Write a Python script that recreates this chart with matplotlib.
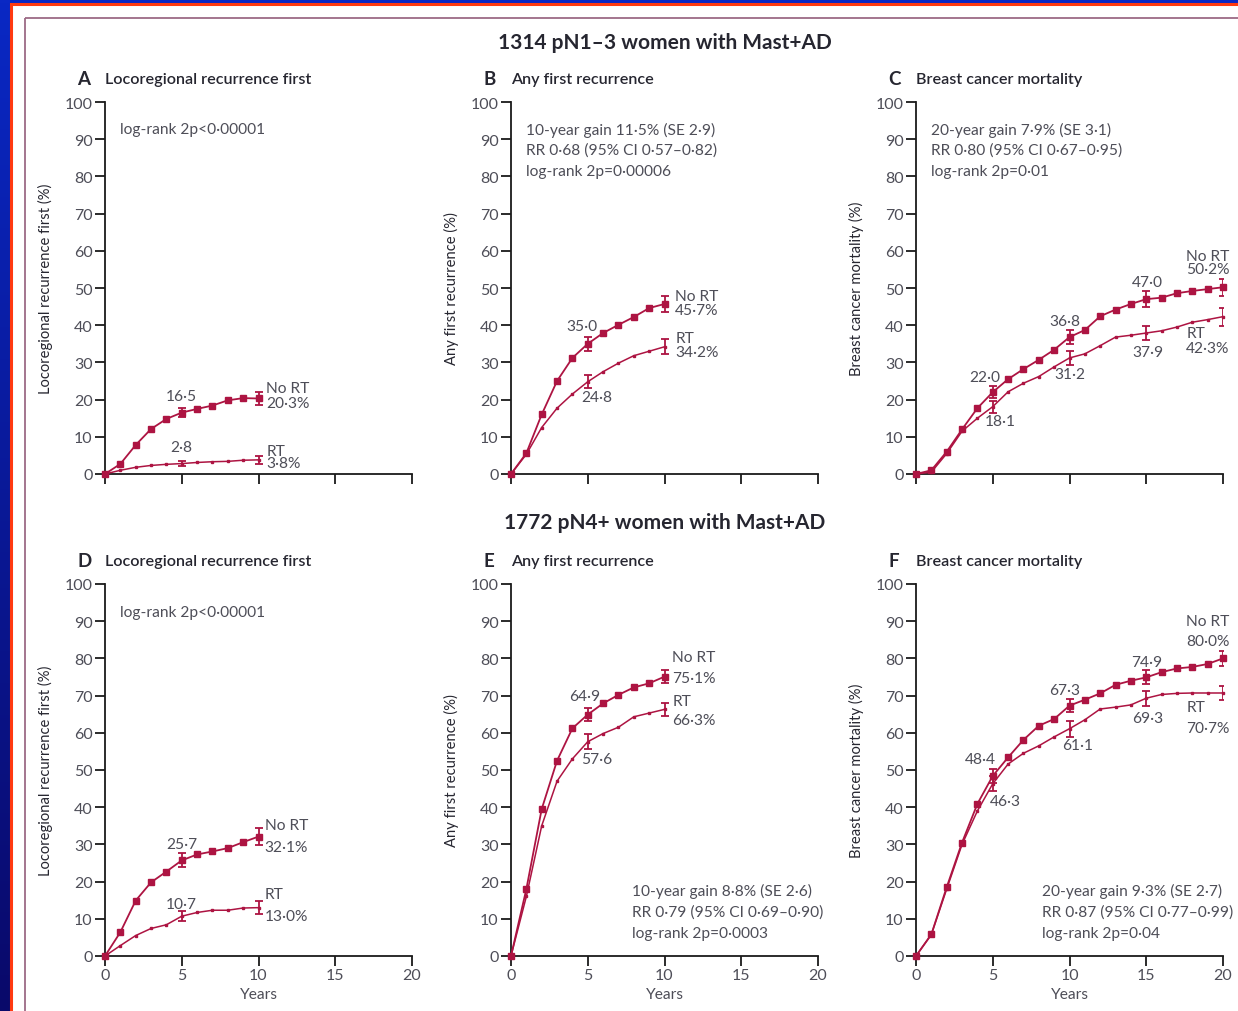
import numpy as np
import matplotlib
matplotlib.use('Agg')
import matplotlib.pyplot as plt
from matplotlib.patches import Rectangle

plt.rcParams['font.family'] = ['Lato', 'DejaVu Sans']

# ---- data ----
years10 = list(range(0, 11))
years20 = list(range(0, 21))

a_nort = [0, 2.7, 7.8, 12.1, 14.8, 16.5, 17.5, 18.4, 19.8, 20.4, 20.3]
a_rt = [0, 1.0, 1.8, 2.3, 2.6, 2.8, 3.1, 3.3, 3.4, 3.7, 3.8]
b_nort = [0, 5.6, 16.0, 25.0, 31.2, 35.0, 37.9, 40.1, 42.2, 44.6, 45.7]
b_rt = [0, 5.3, 12.5, 17.7, 21.5, 24.8, 27.5, 29.8, 31.8, 33.0, 34.2]
c_nort = [0, 1.0, 6.0, 12.0, 17.7, 22.0, 25.5, 28.2, 30.7, 33.4, 36.8,
          38.7, 42.4, 44.2, 45.7, 47.0, 47.4, 48.6, 49.2, 49.7, 50.2]
c_rt = [0, 0.5, 5.5, 11.5, 15.0, 18.1, 22.1, 24.4, 26.2, 28.8, 31.2,
        32.3, 34.5, 36.8, 37.3, 37.9, 38.5, 39.5, 40.8, 41.5, 42.3]
d_nort = [0, 6.4, 14.9, 19.8, 22.7, 25.7, 27.3, 28.1, 29.0, 30.6, 32.1]
d_rt = [0, 2.8, 5.5, 7.4, 8.4, 10.7, 11.7, 12.3, 12.3, 12.9, 13.0]
e_nort = [0, 18.0, 39.5, 52.5, 61.2, 64.9, 67.9, 70.2, 72.2, 73.3, 75.1]
e_rt = [0, 16.0, 35.0, 47.0, 53.0, 57.6, 59.8, 61.5, 64.3, 65.3, 66.3]
f_nort = [0, 5.8, 18.5, 30.5, 40.9, 48.4, 53.4, 58.1, 61.9, 63.7, 67.3,
          68.9, 70.6, 72.9, 74.0, 74.9, 76.3, 77.3, 77.7, 78.5, 80.0]
f_rt = [0, 5.8, 18.0, 30.0, 39.0, 46.3, 51.6, 54.5, 56.5, 58.9, 61.1,
        63.5, 66.4, 66.9, 67.5, 69.3, 70.3, 70.6, 70.7, 70.7, 70.7]

# standard errors shown as bars at 5-year points
a_err = ([1.3, 1.8], [0.7, 1.0])
b_err = ([1.9, 2.1], [1.8, 2.0])
c_err = ([1.7, 1.8, 2.1, 2.3], [1.6, 1.8, 2.0, 2.4])
d_err = ([1.9, 2.3], [1.4, 1.7])
e_err = ([1.8, 1.8], [2.0, 1.8])
f_err = ([1.8, 1.8, 1.9, 2.0], [2.0, 2.1, 2.0, 1.8])

titles = ['1314 pN1\u20133 women with Mast+AD', '1772 pN4+ women with Mast+AD']
panel_letters = ['A', 'B', 'C', 'D', 'E', 'F']
panel_names = ['Locoregional recurrence first', 'Any first recurrence',
               'Breast cancer mortality'] * 2
ylabels = ['Locoregional recurrence first (%)', 'Any first recurrence (%)',
           'Breast cancer mortality (%)'] * 2

stats = {
    'A': ['log-rank 2p<0\u00b700001'],
    'B': ['10-year gain 11\u00b75% (SE 2\u00b79)', 'RR 0\u00b768 (95% CI 0\u00b757\u20130\u00b782)',
          'log-rank 2p=0\u00b700006'],
    'C': ['20-year gain 7\u00b79% (SE 3\u00b71)', 'RR 0\u00b780 (95% CI 0\u00b767\u20130\u00b795)',
          'log-rank 2p=0\u00b701'],
    'D': ['log-rank 2p<0\u00b700001'],
    'E': ['10-year gain 8\u00b78% (SE 2\u00b76)', 'RR 0\u00b779 (95% CI 0\u00b769\u20130\u00b790)',
          'log-rank 2p=0\u00b70003'],
    'F': ['20-year gain 9\u00b73% (SE 2\u00b77)', 'RR 0\u00b787 (95% CI 0\u00b777\u20130\u00b799)',
          'log-rank 2p=0\u00b704'],
}
stats_pos = {'A': (1.0, 92.7), 'B': (1.0, 92.7), 'C': (1.0, 92.7),
             'D': (1.0, 92.5), 'E': (7.9, 17.5), 'F': (8.2, 17.5)}

# value labels: (x, y, text)
labels = {
    'A': [(5, 21.0, '16\u00b75'), (5, 7.3, '2\u00b78')],
    'B': [(4.6, 39.8, '35\u00b70'), (5.6, 20.7, '24\u00b78')],
    'C': [(4.5, 26.1, '22\u00b70'), (5.5, 14.2, '18\u00b71'), (9.7, 41.1, '36\u00b78'),
          (10.0, 26.9, '31\u00b72'), (15.1, 51.6, '47\u00b70'), (15.1, 32.8, '37\u00b79')],
    'D': [(5, 30.1, '25\u00b77'), (5, 14.0, '10\u00b77')],
    'E': [(4.8, 69.9, '64\u00b79'), (5.6, 53.0, '57\u00b76')],
    'F': [(4.2, 53.0, '48\u00b74'), (5.8, 41.7, '46\u00b73'), (9.7, 71.5, '67\u00b73'),
          (10.5, 56.7, '61\u00b71'), (15.0, 79.0, '74\u00b79'), (15.1, 64.0, '69\u00b73')],
}
# end labels: (x, y_name, y_value, name, value)
ends = {
    'A': [(10.5, 23.1, 19.1, 'No RT', '20\u00b73%'), (10.5, 6.2, 3.0, 'RT', '3\u00b78%')],
    'B': [(10.7, 47.8, 44.1, 'No RT', '45\u00b77%'), (10.7, 36.6, 32.8, 'RT', '34\u00b72%')],
    'C': [(17.6, 58.6, 55.1, 'No RT', '50\u00b72%'), (17.6, 37.9, 33.9, 'RT', '42\u00b73%')],
    'D': [(10.4, 35.2, 29.3, 'No RT', '32\u00b71%'), (10.4, 16.7, 10.8, 'RT', '13\u00b70%')],
    'E': [(10.5, 80.4, 74.7, 'No RT', '75\u00b71%'), (10.5, 68.5, 63.4, 'RT', '66\u00b73%')],
    'F': [(17.6, 90.0, 84.7, 'No RT', '80\u00b70%'), (17.6, 66.9, 61.3, 'RT', '70\u00b77%')],
}

series = {
    'A': (years10, a_nort, a_rt, a_err), 'B': (years10, b_nort, b_rt, b_err),
    'C': (years20, c_nort, c_rt, c_err), 'D': (years10, d_nort, d_rt, d_err),
    'E': (years10, e_nort, e_rt, e_err), 'F': (years20, f_nort, f_rt, f_err),
}

RED = '#ad1442'
GREY = '#4e4e58'
DARK = '#262630'
FS = 11.2

W, H = 1238, 1012
fig = plt.figure(figsize=(W / 100, H / 100), dpi=100)

# background frame
bg = fig.add_axes([0, 0, 1, 1], zorder=-10)
bg.set_xlim(0, W)
bg.set_ylim(H, 0)
bg.axis('off')
grad = np.linspace(0, 1, 256).reshape(-1, 1)
bg.imshow(grad, extent=[0, W, H, 0], aspect='auto',
          cmap=matplotlib.colors.LinearSegmentedColormap.from_list('b', ['#0a28c4', '#09096a']))
bg.add_patch(Rectangle((11, 5), W, H, facecolor='white', edgecolor='#ff3a10', lw=2.2))
bg.add_patch(Rectangle((25, 18.5), W, H, facecolor='none', edgecolor='#9c6a86', lw=1.3))

lefts = [105, 511, 916]
bottoms = [475, 957]
aw, ah = 307, 372

for i, key in enumerate(panel_letters):
    row, col = divmod(i, 3)
    l = lefts[col] / W
    b = 1 - bottoms[row] / H
    ax = fig.add_axes([l, b, aw / W, ah / H])
    ax.set_xlim(0, 20)
    ax.set_ylim(0, 100)
    for s in ['top', 'right']:
        ax.spines[s].set_visible(False)
    for s in ['left', 'bottom']:
        ax.spines[s].set_linewidth(1.3)
        ax.spines[s].set_color('#1a1a1a')
    ax.set_xticks([0, 5, 10, 15, 20])
    ax.set_yticks(range(0, 101, 10))
    ax.tick_params(axis='both', direction='out', length=7, width=1.3, color='#1a1a1a',
                   labelsize=11.5, labelcolor=GREY, pad=2)
    if row == 0:
        ax.tick_params(axis='x', labelbottom=False)
    else:
        ax.set_xlabel('Years', fontsize=FS, color=GREY, labelpad=3)
    ax.set_ylabel(ylabels[i], fontsize=10.6, color=DARK, labelpad=8)

    x, nort, rt, err = series[key]
    ax.plot(x, rt, color=RED, lw=1.1, marker='s', ms=2, clip_on=False, zorder=3)
    ax.plot(x, nort, color=RED, lw=1.3, marker='s', ms=4.5, clip_on=False, zorder=4)
    idx = [k for k in x if k > 0 and k % 5 == 0]
    ax.errorbar(idx, [nort[k] for k in idx], yerr=err[0], fmt='none', ecolor=RED,
                elinewidth=1.3, capsize=3, capthick=1.3, zorder=5)
    ax.errorbar(idx, [rt[k] for k in idx], yerr=err[1], fmt='none', ecolor=RED,
                elinewidth=1.3, capsize=3, capthick=1.3, zorder=5)

    sx, sy = stats_pos[key]
    for j, line in enumerate(stats[key]):
        ax.text(sx, sy - j * 5.6, line, fontsize=FS, color=GREY, va='center', ha='left')
    for lx, ly, t in labels[key]:
        ax.text(lx, ly, t, fontsize=FS, color=GREY, ha='center', va='center')
    for ex, y1, y2, name, val in ends[key]:
        ax.text(ex, y1, name, fontsize=FS, color=GREY, ha='left', va='center')
        ax.text(ex, y2, val, fontsize=FS, color=GREY, ha='left', va='center')

    ax.text(-1.8, 106.3, key, fontsize=13.5, fontweight='bold', color=DARK, ha='left', va='center')
    ax.text(0.0, 106.3, panel_names[i], fontsize=11.6, fontweight='semibold', color=DARK,
            ha='left', va='center')

fig.text(665 / W, 1 - 43 / H, titles[0], fontsize=15, fontweight='bold', color=DARK,
         ha='center', va='center')
fig.text(665 / W, 1 - 523 / H, titles[1], fontsize=15, fontweight='bold', color=DARK,
         ha='center', va='center')

fig.savefig('out.png', dpi=100)
